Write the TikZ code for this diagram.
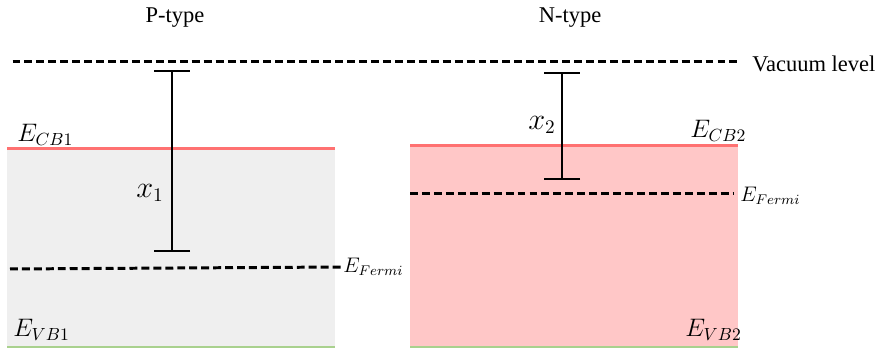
\documentclass[tikz,border=0pt]{standalone}
\usepackage{fontspec}
\setmainfont{Liberation Serif}
\usepackage{amsmath}
\usepackage{xcolor}
\usetikzlibrary{arrows.meta}
\definecolor{bandgray}{HTML}{EFEFEF}
\definecolor{bandpink}{HTML}{FFC7C7}
\definecolor{cbred}{HTML}{FF7171}
\definecolor{vbgreen}{HTML}{A9D18E}
\begin{document}
\begin{tikzpicture}[-,auto,
                    level line/.style={dashed,line width=1.7pt,dash pattern=on 4.5pt off 2.3pt},
                    cb line/.style={cbred,line width=1.7pt},
                    vb line/.style={vbgreen,line width=1.7pt},
                    gap bar/.style={{Bar[width=7.2mm]}-{Bar[width=7.2mm]},line width=1.1pt},
                    type label/.style={font=\fontsize{12.8}{15}\selectfont},
                    band label/.style={inner sep=0pt,anchor=base west,font=\fontsize{14.5}{17}\selectfont},
                    fermi label/.style={anchor=west,inner sep=0pt,font=\fontsize{11.5}{14}\selectfont},
                    x label/.style={font=\fontsize{16}{19}\selectfont}]
\useasboundingbox (0,0) rectangle (17.64,7.08);

% band blocks
\fill[bandgray] (0.14,0.14) rectangle (6.70,4.10);
\fill[bandpink] (8.20,0.14) rectangle (14.76,4.16);

\coordinate (CBLeftA) at (0.14,4.10);
\coordinate (CBLeftB) at (6.70,4.10);
\coordinate (VBLeftA) at (0.14,0.14);
\coordinate (VBLeftB) at (6.70,0.14);
\coordinate (CBRightA) at (8.20,4.16);
\coordinate (CBRightB) at (14.76,4.16);
\coordinate (VBRightA) at (8.20,0.14);
\coordinate (VBRightB) at (14.76,0.14);

\draw[cb line] (CBLeftA)--(CBLeftB);
\draw[vb line] (VBLeftA)--(VBLeftB);
\draw[cb line] (CBRightA)--(CBRightB);
\draw[vb line] (VBRightA)--(VBRightB);

% titles
\node[type label] (PType) at (3.50,6.72) {P-type};
\node[type label] (NType) at (11.40,6.72) {N-type};

% vacuum level
\coordinate (VacStart) at (0.25,5.84);
\node[type label,anchor=west,inner sep=0pt] (VacLabel) at (15.04,5.80) {Vacuum level};
\coordinate (VacEnd) at (14.76,5.84);
\draw[level line] (VacStart)--(VacEnd);

% fermi levels
\coordinate (FermiLeftA) at (0.20,1.70);
\node[fermi label] (FermiLeft) at (6.86,1.74) {$E_{Fermi}$};
\draw[level line] (FermiLeftA)--(FermiLeft.west);

\coordinate (FermiRightA) at (8.20,3.20);
\node[fermi label] (FermiRight) at (14.80,3.16) {$E_{Fermi}$};
\draw[level line] (FermiRightA)--([xshift=-4pt]FermiRight.west |- FermiRightA);

% band labels
\node[band label] (ECBOne) at (0.34,4.24) {$E_{CB1}$};
\node[band label] (EVBOne) at (0.26,0.34) {$E_{VB1}$};
\node[band label] (ECBTwo) at (13.80,4.32) {$E_{CB2}$};
\node[band label] (EVBTwo) at (13.70,0.34) {$E_{VB2}$};

% electron affinities
\coordinate (BarOneTop) at (3.44,5.68);
\coordinate (BarOneBot) at (3.44,2.04);
\draw[gap bar] (BarOneTop)--(BarOneBot);
\node[x label] (XOne) at (3.00,3.22) {$x_1$};

\coordinate (BarTwoTop) at (11.24,5.64);
\coordinate (BarTwoBot) at (11.24,3.48);
\draw[gap bar] (BarTwoTop)--(BarTwoBot);
\node[x label] (XTwo) at (10.84,4.58) {$x_2$};

\end{tikzpicture}
\end{document}
